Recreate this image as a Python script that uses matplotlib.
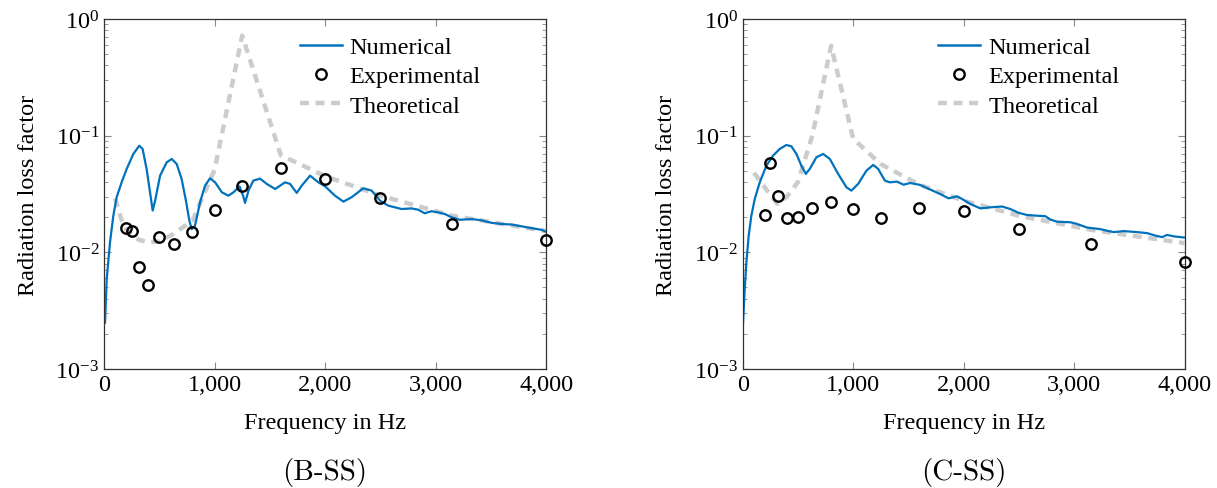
import numpy as np
import matplotlib
matplotlib.use('Agg')
import matplotlib.pyplot as plt
from matplotlib.lines import Line2D
from matplotlib.ticker import LogLocator, NullFormatter

plt.rcParams['font.family'] = ['Liberation Serif', 'DejaVu Serif']
plt.rcParams['mathtext.fontset'] = 'stix'

# bandes de tiers d'octave (points experimentaux / theorie)
bands = [200, 250, 315, 400, 500, 630, 800, 1000, 1250, 1600, 2000, 2500, 3150, 4000]
theo_bands = [100, 125, 160, 200, 250, 315, 400, 500, 630, 800, 1000, 1250, 1600, 2000, 2500, 3150, 4000]

# (B-SS)
b_exp = [0.0161, 0.0153, 0.00745, 0.00526, 0.0135, 0.0117, 0.0149, 0.0232, 0.0368, 0.0525, 0.0428, 0.0294, 0.0176, 0.0127]
b_theo = [0.029, 0.0243, 0.0187, 0.0158, 0.0141, 0.0128, 0.0122, 0.0124, 0.0144, 0.0187, 0.051, 0.72, 0.068, 0.045, 0.0306, 0.0206, 0.0152]
b_num_f = [9, 24, 54, 84, 114, 159, 205, 265, 319, 349, 385, 416, 440, 462, 507, 567, 612, 657, 702, 741,
           772, 793, 823, 869, 914, 959, 1005, 1066, 1125, 1172, 1226, 1258, 1276, 1307, 1351, 1412, 1472,
           1548, 1638, 1683, 1744, 1789, 1864, 1940, 2000, 2090, 2166, 2241, 2346, 2422, 2498, 2573, 2694,
           2781, 2842, 2902, 2962, 3023, 3083, 3143, 3219, 3325, 3416, 3506, 3597, 3688, 3778, 3869, 3959, 4000]
b_num = [0.0025, 0.0059, 0.0122, 0.0206, 0.0297, 0.0398, 0.0519, 0.0697, 0.082, 0.0769, 0.0519, 0.0327,
         0.0228, 0.0277, 0.0454, 0.0591, 0.0631, 0.0572, 0.0426, 0.0277, 0.0187, 0.0158, 0.0169, 0.0269,
         0.0373, 0.0431, 0.0398, 0.0327, 0.0306, 0.0327, 0.0368, 0.0306, 0.0265, 0.0338, 0.0412, 0.0428,
         0.0386, 0.0349, 0.0398, 0.0386, 0.0323, 0.0373, 0.0454, 0.0398, 0.0368, 0.0306, 0.0272, 0.0297,
         0.0354, 0.0338, 0.0277, 0.0251, 0.0235, 0.0238, 0.0232, 0.0216, 0.0225, 0.0220, 0.0213, 0.020,
         0.019, 0.0193, 0.0188, 0.0179, 0.0175, 0.0173, 0.0167, 0.0161, 0.0156, 0.0150]

# (C-SS)
c_exp = [0.0210, 0.0587, 0.0306, 0.0196, 0.0202, 0.0239, 0.0272, 0.0237, 0.0197, 0.0240, 0.0226, 0.0157, 0.0117, 0.00833]
c_theo = [0.048, 0.045, 0.040, 0.036, 0.031, 0.026, 0.030, 0.040, 0.10, 0.59, 0.094, 0.057, 0.038, 0.0277, 0.0206, 0.0156, 0.012]
c_num_f = [3, 18, 33, 54, 78, 109, 154, 214, 275, 335, 395, 441, 486, 531, 571, 607, 667, 728, 789, 864,
           939, 984, 1045, 1120, 1181, 1226, 1287, 1332, 1396, 1456, 1516, 1607, 1698, 1788, 1864, 1940,
           1985, 2060, 2151, 2242, 2348, 2423, 2498, 2574, 2665, 2740, 2785, 2846, 2967, 3027, 3118, 3239,
           3299, 3359, 3450, 3571, 3662, 3737, 3798, 3843, 3903, 3994]
c_num = [0.0025, 0.00485, 0.0082, 0.0139, 0.0206, 0.0287, 0.0398, 0.0553, 0.0675, 0.0769, 0.0832, 0.081,
         0.0697, 0.0553, 0.047, 0.0519, 0.0653, 0.0697, 0.0631, 0.047, 0.0361, 0.0338, 0.0386, 0.0501,
         0.0561, 0.0519, 0.0412, 0.0398, 0.0404, 0.038, 0.0393, 0.0378, 0.0345, 0.0316, 0.029, 0.0302,
         0.0287, 0.026, 0.0238, 0.0243, 0.0247, 0.0235, 0.0218, 0.0209, 0.0206, 0.0204, 0.0191, 0.0183,
         0.0181, 0.0175, 0.0163, 0.0158, 0.0153, 0.0149, 0.0152, 0.0149, 0.0146, 0.0139, 0.0135, 0.0141,
         0.0137, 0.0134]

xticks = [0, 1000, 2000, 3000, 4000]
xtick_labels = ['0', '1,000', '2,000', '3,000', '4,000']
captions = ['(B-SS)', '(C-SS)']

BLUE = '#0072bd'
GREY = '#cccccc'
FS = 17.5

fig = plt.figure(figsize=(12.17, 4.89), dpi=100)
ax1 = fig.add_axes([0.0855, 0.2434, 0.3632, 0.7157])
ax2 = fig.add_axes([0.6103, 0.2434, 0.3630, 0.7157])

panels = [(ax1, b_num_f, b_num, b_exp, b_theo), (ax2, c_num_f, c_num, c_exp, c_theo)]

for i, (ax, nf, nv, ev, tv) in enumerate(panels):
    ax.plot(theo_bands, tv, color=GREY, lw=3.2, dashes=(2.0, 1.5), zorder=1)
    ax.plot(nf, nv, color=BLUE, lw=1.6, zorder=2)
    ax.plot(bands, ev, ls='none', marker='o', ms=7.5, mfc='none', mec='black', mew=1.7, zorder=3, clip_on=False)
    ax.set_yscale('log')
    ax.set_ylim(1e-3, 1)
    ax.set_xlim(0, 4000)
    ax.set_xticks(xticks)
    ax.set_xticklabels(xtick_labels)
    ax.yaxis.set_major_locator(LogLocator(base=10, numticks=10))
    ax.yaxis.set_minor_locator(LogLocator(base=10, subs=np.arange(2, 10), numticks=20))
    ax.yaxis.set_minor_formatter(NullFormatter())
    ax.tick_params(which='both', direction='in', top=True, right=True, color='#888888', labelsize=FS)
    ax.tick_params(which='major', length=5, width=0.8)
    ax.tick_params(which='minor', length=3, width=0.6)
    for s in ax.spines.values():
        s.set_color('#333333')
        s.set_linewidth(0.9)
    ax.set_xlabel('Frequency in Hz', fontsize=FS, labelpad=12)
    ax.set_ylabel('Radiation loss factor', fontsize=FS, labelpad=12)

    handles = [Line2D([], [], color=BLUE, lw=1.8),
               Line2D([], [], ls='none', marker='o', ms=7.5, mfc='none', mec='black', mew=1.7),
               Line2D([], [], color=GREY, lw=3.2, dashes=(2.0, 1.5))]
    ax.legend(handles, ['Numerical', 'Experimental', 'Theoretical'], loc='upper left',
              bbox_to_anchor=(0.404, 1.0), frameon=False, fontsize=FS, handlelength=1.73,
              handletextpad=0.33, labelspacing=0.3, borderaxespad=0.3)

    pos = ax.get_position()
    fig.text(pos.x0 + pos.width / 2, 0.005, captions[i], ha='center', va='bottom',
             fontsize=21, family=['cmr10', 'Liberation Serif'])

fig.savefig('out.png', dpi=100)
